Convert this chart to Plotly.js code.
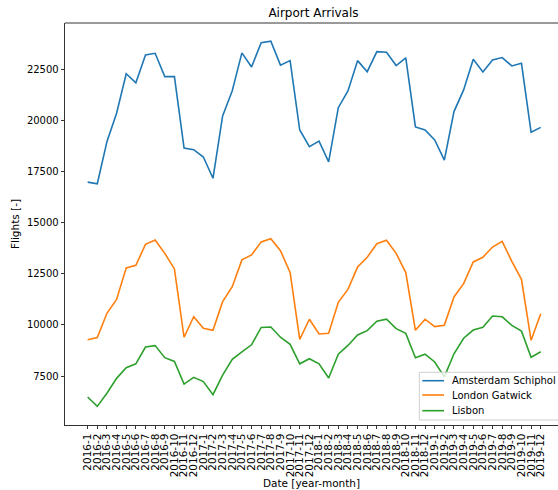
<!DOCTYPE html>
<html>
<head>
<meta charset="utf-8">
<script src="https://cdn.plot.ly/plotly-3.0.1.min.js"></script>
<style>html,body{margin:0;padding:0;background:#fff;}#chart{width:558px;height:490px;}</style>
</head>
<body>
<div id="chart"></div>
<script>
var months = [
  "2016-1","2016-2","2016-3","2016-4","2016-5","2016-6","2016-7","2016-8","2016-9","2016-10","2016-11","2016-12",
  "2017-1","2017-2","2017-3","2017-4","2017-5","2017-6","2017-7","2017-8","2017-9","2017-10","2017-11","2017-12",
  "2018-1","2018-2","2018-3","2018-4","2018-5","2018-6","2018-7","2018-8","2018-9","2018-10","2018-11","2018-12",
  "2019-1","2019-2","2019-3","2019-4","2019-5","2019-6","2019-7","2019-8","2019-9","2019-10","2019-11","2019-12"
];
var amsterdam = [
  16980, 16900, 18960, 20350, 22280, 21840, 23200, 23280, 22140, 22140, 18650, 18570,
  18210, 17170, 20220, 21450, 23300, 22610, 23800, 23870, 22700, 22920, 19530, 18720,
  18990, 17970, 20620, 21440, 22920, 22380, 23360, 23330, 22680, 23050, 19680, 19530,
  19040, 18060, 20430, 21490, 22990, 22370, 22950, 23070, 22660, 22790, 19420, 19660
];
var gatwick = [
  9280, 9380, 10570, 11250, 12790, 12920, 13940, 14150, 13500, 12740, 9400, 10400,
  9840, 9740, 11140, 11870, 13180, 13420, 14060, 14220, 13630, 12570, 9300, 10280,
  9560, 9590, 11110, 11740, 12830, 13310, 13970, 14140, 13500, 12560, 9740, 10280,
  9920, 9980, 11370, 12020, 13080, 13310, 13810, 14090, 13110, 12230, 9250, 10550
];
var lisbon = [
  6480, 6020, 6660, 7390, 7910, 8100, 8920, 8990, 8400, 8220, 7110, 7440,
  7230, 6590, 7550, 8320, 8680, 9030, 9880, 9900, 9400, 9050, 8100, 8350,
  8100, 7410, 8570, 9000, 9510, 9720, 10180, 10280, 9820, 9590, 8400, 8570,
  8190, 7460, 8590, 9350, 9750, 9890, 10440, 10400, 9980, 9700, 8420, 8690
];
var seriesNames = ["Amsterdam Schiphol", "London Gatwick", "Lisbon"];
var yTicks = [7500, 10000, 12500, 15000, 17500, 20000, 22500];

var font = "DejaVu Sans, sans-serif";
var colors = ["#1f77b4", "#ff7f0e", "#2ca02c"];
var data = [amsterdam, gatwick, lisbon].map(function (vals, i) {
  return {
    x: months, y: vals, type: "scatter", mode: "lines", name: seriesNames[i],
    line: {color: colors[i], width: 1.6}, showlegend: false
  };
});

// legend box drawn inside the axes, lower right
var shapes = [
  {type: "line", xref: "paper", yref: "paper", x0: 0, x1: 1, y0: 1, y1: 1,
   line: {color: "#000", width: 0.8}},
  {type: "rect", xref: "paper", yref: "paper", x0: 0.7187, x1: 1.03, y0: 0.0124, y1: 0.1311,
   layer: "above", fillcolor: "rgba(255,255,255,0.8)", line: {color: "#d0d0d0", width: 1}}
];
var annotations = [];
var rowY = [0.1102, 0.0746, 0.0356];
seriesNames.forEach(function (nm, i) {
  shapes.push({type: "line", xref: "paper", yref: "paper", x0: 0.7248, x1: 0.7688,
               y0: rowY[i], y1: rowY[i], layer: "above", line: {color: colors[i], width: 1.6}});
  annotations.push({xref: "paper", yref: "paper", x: 0.781, y: rowY[i], xanchor: "left",
                    yanchor: "middle", text: nm, showarrow: false,
                    font: {family: font, size: 10, color: "#000"}});
});

var layout = {
  width: 558, height: 490,
  margin: {l: 65, r: 0, t: 23, b: 65, pad: 0},
  paper_bgcolor: "#fff", plot_bgcolor: "#fff",
  font: {family: font, size: 10, color: "#000"},
  title: {text: "Airport Arrivals", font: {family: font, size: 12, color: "#000"},
          x: 0.504, xref: "paper", xanchor: "center", y: 0.973, yref: "container", yanchor: "middle"},
  showlegend: false,
  xaxis: {
    type: "category", categoryorder: "array", categoryarray: months, automargin: false,
    range: [-2.35, 48.79], tickmode: "array", tickvals: months, ticktext: months,
    tickangle: -90, ticks: "outside", ticklen: 3.5, tickwidth: 0.8, tickcolor: "#000",
    showgrid: false, zeroline: false, showline: true, linecolor: "#000", linewidth: 0.8,
    tickfont: {family: font, size: 10.5, color: "#000"},
    title: {text: "Date [year-month]", font: {family: font, size: 10.5, color: "#000"}, standoff: 2}
  },
  yaxis: {
    range: [5110, 24760], tickmode: "array", tickvals: yTicks, automargin: false,
    ticktext: yTicks.map(String),
    ticks: "outside", ticklen: 3.5, tickwidth: 0.8, tickcolor: "#000",
    showgrid: false, zeroline: false, showline: true, linecolor: "#000", linewidth: 0.8,
    tickfont: {family: font, size: 10, color: "#000"},
    title: {text: "Flights [-]", font: {family: font, size: 10.5, color: "#000"}, standoff: 5}
  },
  shapes: shapes,
  annotations: annotations
};

Plotly.newPlot("chart", data, layout, {staticPlot: true, displayModeBar: false});
</script>
</body>
</html>
